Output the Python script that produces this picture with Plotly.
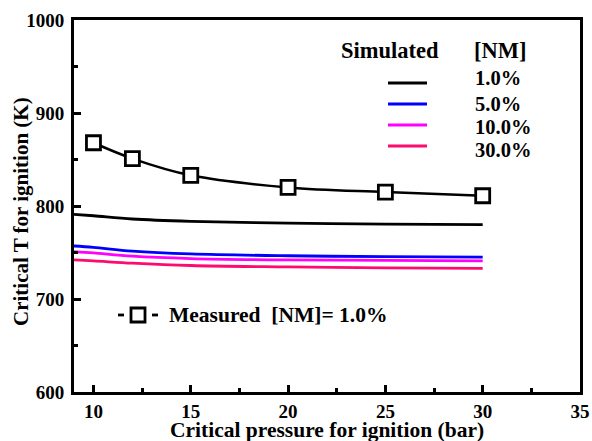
import plotly.graph_objects as go

# Measured critical ignition conditions, [NM] = 1.0 %
p_meas = [10, 12, 15, 20, 25, 30]
t_meas = [868, 851, 833, 820, 815, 811]

# Simulated critical temperature vs. pressure for each NM loading
p_sim = [9, 10, 12, 15, 20, 25, 30]
t_sim_1 = [791, 789.5, 786, 783.5, 781.5, 780.5, 780]
t_sim_5 = [757, 755.5, 751.5, 748.5, 746.5, 745.5, 745]
t_sim_10 = [751, 749.5, 746, 743.5, 742, 741.5, 741]
t_sim_30 = [742, 741, 738.5, 736, 734.5, 733.5, 733]

sim_labels = ["1.0%", "5.0%", "10.0%", "30.0%"]
sim_colors = ["#000000", "#0000ff", "#ff00ff", "#ff0a6e"]
sim_series = [t_sim_1, t_sim_5, t_sim_10, t_sim_30]

x_ticks = [10, 15, 20, 25, 30, 35]
y_ticks = [600, 700, 800, 900, 1000]

FONT = "Liberation Serif"

fig = go.Figure()

for ys, col, lab in zip(sim_series, sim_colors, sim_labels):
    fig.add_trace(go.Scatter(
        x=p_sim, y=ys, mode="lines", name=lab,
        line=dict(color=col, width=2.8, shape="spline"),
        showlegend=False,
    ))

fig.add_trace(go.Scatter(
    x=p_meas, y=t_meas, mode="lines+markers", name="Measured",
    line=dict(color="black", width=2.5, shape="spline", smoothing=1.0),
    marker=dict(symbol="square", size=14, color="white",
                line=dict(color="black", width=2.8)),
    showlegend=False,
))

axis_common = dict(
    showline=True, linecolor="black", linewidth=3, mirror=True,
    ticks="inside", ticklen=7, tickwidth=2.5, tickcolor="black",
    showgrid=False, zeroline=False, automargin=False,
    tickfont=dict(family=FONT, size=19, color="black"),
)

fig.update_xaxes(
    range=[9, 35], tickvals=x_ticks,
    ticktext=["<b>%d</b>" % v for v in x_ticks],
    minor=dict(tickvals=[12.5, 17.5, 22.5, 27.5, 32.5], ticks="inside",
               ticklen=4, tickwidth=2.5, tickcolor="black"),
    **axis_common,
)
fig.update_yaxes(
    range=[600, 1000], tickvals=y_ticks,
    ticktext=["<b>%d</b>" % v for v in y_ticks],
    ticklabelstandoff=3,
    minor=dict(tickvals=[650, 750, 850, 950], ticks="inside",
               ticklen=4, tickwidth=2.5, tickcolor="black"),
    **axis_common,
)

W, H = 592, 441
L, R, T, B = 74, 12, 20, 49
pw, ph = W - L - R, H - T - B


def px(x):
    return (x - L) / pw


def py(y):
    return (H - B - y) / ph


annotations = []
shapes = []


def text(x, y, s, anchor="left", size=22.5, angle=0):
    annotations.append(dict(
        x=px(x), y=py(y), xref="paper", yref="paper", text="<b>%s</b>" % s,
        showarrow=False, xanchor=anchor, yanchor="middle", textangle=angle,
        font=dict(family=FONT, size=size, color="black"),
    ))


def seg(x0, x1, y, col, w):
    shapes.append(dict(type="line", xref="paper", yref="paper",
                       x0=px(x0), x1=px(x1), y0=py(y), y1=py(y),
                       line=dict(color=col, width=w)))


# axis titles
text(327, 430, "Critical pressure for ignition (bar)", anchor="center", size=21.5)
text(21, 212, "Critical T for ignition (K)", anchor="center", size=21, angle=-90)

# simulated key
text(339, 50, "Simulated")
text(472, 50, "[NM]")
key_y = [83, 104, 125, 146]
lab_y = [78, 104, 127, 150]
for yk, yl, col, lab in zip(key_y, lab_y, sim_colors, sim_labels):
    seg(388, 427, yk, col, 2.8)
    text(473, yl, lab, size=20.5)

# measured key: short dash, open square, short dash
seg(118, 124, 315, "black", 2.8)
seg(152, 158, 315, "black", 2.8)
fig.add_trace(go.Scatter(
    x=[px(138)], y=[py(315)], xaxis="x2", yaxis="y2", mode="markers",
    marker=dict(symbol="square", size=14, color="white",
                line=dict(color="black", width=2.8)),
    showlegend=False, hoverinfo="skip",
))
fig.update_layout(
    xaxis2=dict(range=[0, 1], overlaying="x", visible=False, domain=[0, 1]),
    yaxis2=dict(range=[0, 1], overlaying="y", visible=False, domain=[0, 1]),
)
text(167, 315, "Measured  [NM]= 1.0%", size=21.5)

fig.update_layout(
    width=W, height=H,
    margin=dict(l=L, r=R, t=T, b=B),
    plot_bgcolor="white", paper_bgcolor="white",
    annotations=annotations, shapes=shapes,
    showlegend=False,
)

fig.write_html("out.html")
